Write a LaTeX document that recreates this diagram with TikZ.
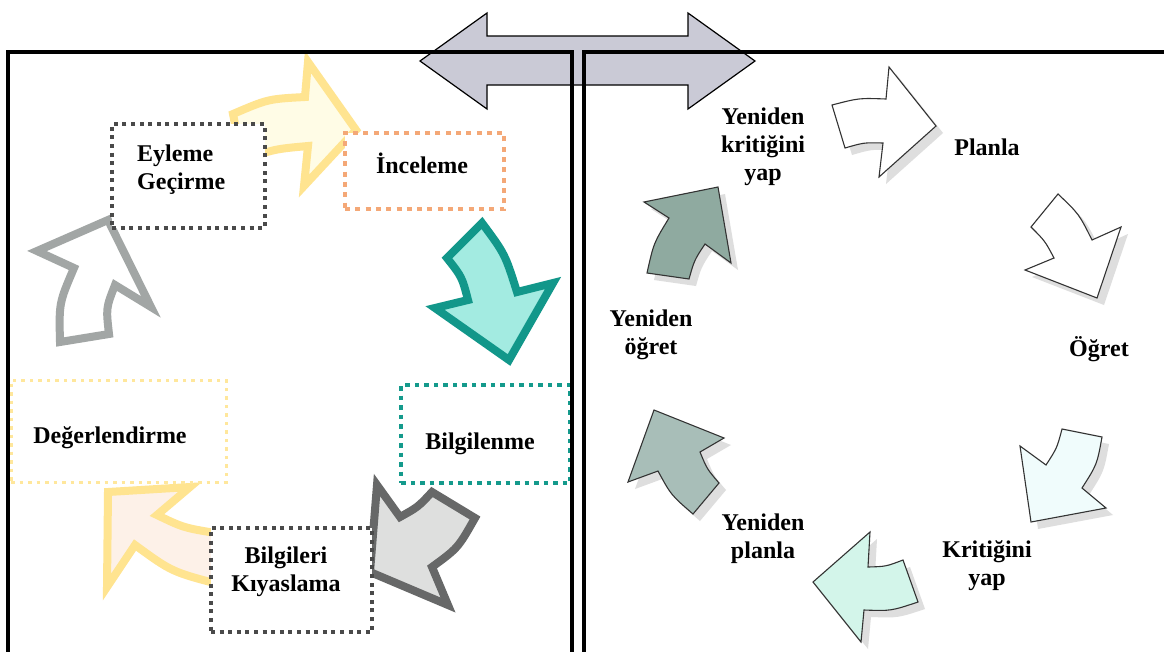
\documentclass[tikz,border=0pt]{standalone}
\usepackage{fontspec}
\setmainfont{Liberation Serif}
\definecolor{yelLine}{HTML}{FFE490}
\definecolor{yelFillA}{HTML}{FFFCE6}
\definecolor{yelFillB}{HTML}{FDF1E8}
\definecolor{tealLine}{HTML}{12978A}
\definecolor{tealFill}{HTML}{A3EBE1}
\definecolor{dkLine}{HTML}{676868}
\definecolor{dkFill}{HTML}{DEDFDE}
\definecolor{ltLine}{HTML}{A2A6A5}
\definecolor{boxDark}{HTML}{4A4A4A}
\definecolor{boxOrange}{HTML}{F4A877}
\definecolor{boxTeal}{HTML}{149A8C}
\definecolor{boxYellow}{HTML}{FFE79C}
\definecolor{bigArrow}{HTML}{CACAD6}
\definecolor{cyclePale}{HTML}{F0FCFC}
\definecolor{cycleMint}{HTML}{D3F5EA}
\definecolor{cycleSage}{HTML}{A8BEB8}
\definecolor{cycleSageDark}{HTML}{8FAAA0}
\begin{document}
\begin{tikzpicture}[x=1pt,y=-1pt,
  lbl/.style={font=\bfseries\fontsize{24}{28}\selectfont, inner sep=0pt, align=center},
  fatarrow/.style={line width=8pt, line join=miter},
  cyclearrow/.style={draw=black!80, line width=1.1pt, line join=miter},
  arrowshadow/.style={fill=black!13, draw=none, shift={(7,7)}},
  dotbox/.style={draw=#1, fill=white, rectangle, inner sep=0pt},
  darkdots/.style={dotbox=boxDark, line width=3.6pt, dash pattern=on 4pt off 4.6pt},
  orangedots/.style={dotbox=boxOrange, line width=4.5pt, dash pattern=on 5pt off 5.3pt},
  tealdots/.style={dotbox=boxTeal, line width=3.6pt, dash pattern=on 4.5pt off 5pt},
  yellowdots/.style={dotbox=boxYellow, line width=3pt, dash pattern=on 3.5pt off 5pt},
  frame/.style={draw=black, line width=3.2pt}
]
\useasboundingbox (0,0) rectangle (1164,651);
\clip (0,0) rectangle (1164,651);
\fill[white] (0,0) rectangle (1164,651);

% two-headed arrow across the top
\draw[fill=bigArrow, line width=1.2pt, line join=miter]
  (420,61) -- (487,13) -- (487,36) -- (688,36) -- (688,13) -- (755,61)
  -- (688,109) -- (688,85) -- (487,85) -- (487,109) -- cycle;

% ---------- left cycle: thick outlined curved arrows ----------
% Eyleme -> Inceleme
\draw[fatarrow, draw=yelLine, fill=yelFillA]
  (233,114) .. controls (268,99) .. (305,97) -- (308,62) -- (356,130)
  -- (304,186) -- (308,146) .. controls (275,149) .. (242,160) -- cycle;
% Inceleme -> Bilgilenme
\draw[fatarrow, draw=tealLine, fill=tealFill]
  (447,258) -- (482,223) .. controls (505,254) .. (517,292) -- (553,283)
  -- (509,360) -- (435,308) -- (468,300) .. controls (462,277) .. (447,258) -- cycle;
% Bilgilenme -> Bilgileri Kiyaslama
\draw[fatarrow, draw=dkLine, fill=dkFill]
  (377,485) -- (400,517) .. controls (418,507) .. (432,492) -- (475,518)
  .. controls (458,548) .. (432,567) -- (448,605) -- (370,572) -- cycle;
% Bilgileri Kiyaslama -> Degerlendirme
\draw[fatarrow, draw=yelLine, fill=yelFillB]
  (108,492) -- (190,487) -- (157,515) .. controls (184,528) .. (222,534)
  -- (222,585) .. controls (172,572) .. (135,545) -- (107,587) -- cycle;
% Degerlendirme -> Eyleme
\draw[fatarrow, draw=ltLine, fill=white]
  (108,220) -- (151,307) -- (115,285) .. controls (106,308) .. (109,334)
  -- (60,342) .. controls (59,303) .. (74,268) -- (37,251) -- cycle;

% ---------- left cycle: dotted boxes ----------
\node[darkdots, minimum width=153pt, minimum height=104pt] (eyBox) at (188.5,176) {};
\node[orangedots, minimum width=159pt, minimum height=76pt] (inBox) at (424.5,171) {};
\node[tealdots, minimum width=169pt, minimum height=98pt] (biBox) at (485.5,434) {};
\node[darkdots, minimum width=161pt, minimum height=104pt] (kiBox) at (291.5,580) {};
\node[yellowdots, minimum width=215pt, minimum height=102pt] (deBox) at (118.5,431) {};

\node[lbl, align=left, anchor=west] (tEy) at (137,170) {Eyleme\\Geçirme};
\node[lbl] (tIn) at (422,163) {İnceleme};
\node[lbl] (tBi) at (480,444) {Bilgilenme};
\node[lbl] (tKi) at (286,572) {Bilgileri\\Kıyaslama};
\node[lbl] (tDe) at (110,438) {Değerlendirme};

% ---------- right cycle: thin outlined curved arrows with shadow ----------
\def\arrA{(832,105) .. controls (859,98) .. (886,99) -- (889,67) -- (936,126)
  -- (879,177) -- (883,143) .. controls (864,142.5) .. (845,148) -- cycle}
\def\arrB{(1058,194) -- (1031,227) .. controls (1045,241) .. (1054,258) -- (1025,270)
  -- (1097,298) -- (1121,227) -- (1092,240) .. controls (1079,214) .. (1058,194) -- cycle}
\def\arrC{(1062,429) -- (1102,437) .. controls (1097,464.5) .. (1082,488) -- (1106,508)
  -- (1031,522) -- (1020,446) -- (1046,465) .. controls (1057,448) .. (1062,429) -- cycle}
\def\arrD{(903,560) -- (918,602) .. controls (891,611) .. (864,610) -- (861,642)
  -- (813,582) -- (870,532) -- (868,567) .. controls (886,566.5) .. (903,560) -- cycle}
\def\arrE{(693,514) -- (719,483) .. controls (707,469) .. (700,452) -- (724,438)
  -- (654,410) -- (628,482) -- (658,471) .. controls (671,495) .. (693,514) -- cycle}
\def\arrF{(647,273) -- (689,279) .. controls (694.4,260) .. (705,244) -- (731,263)
  -- (718,187) -- (644,202) -- (669,218) .. controls (653.7,243) .. (647,273) -- cycle}

\foreach \a in {\arrA,\arrB,\arrC,\arrD,\arrE,\arrF}{\path[arrowshadow] \a;}
\draw[cyclearrow, fill=white] \arrA;
\draw[cyclearrow, fill=white] \arrB;
\draw[cyclearrow, fill=cyclePale] \arrC;
\draw[cyclearrow, fill=cycleMint] \arrD;
\draw[cyclearrow, fill=cycleSage] \arrE;
\draw[cyclearrow, fill=cycleSageDark] \arrF;

\node[lbl] (tYk) at (763,147) {Yeniden\\kritiğini\\yap};
\node[lbl] (tPl) at (987,147) {Planla};
\node[lbl] (tYo) at (651,335) {Yeniden\\öğret};
\node[lbl] (tOg) at (1099,349) {Öğret};
\node[lbl] (tKr) at (987,566) {Kritiğini\\yap};
\node[lbl] (tYp) at (763,539) {Yeniden\\planla};

% ---------- the two frames ----------
\draw[frame] (8,660) -- (8,52) -- (572,52) -- (572,660);
\draw[frame] (584,660) -- (584,52) -- (1175,52);
\end{tikzpicture}
\end{document}
